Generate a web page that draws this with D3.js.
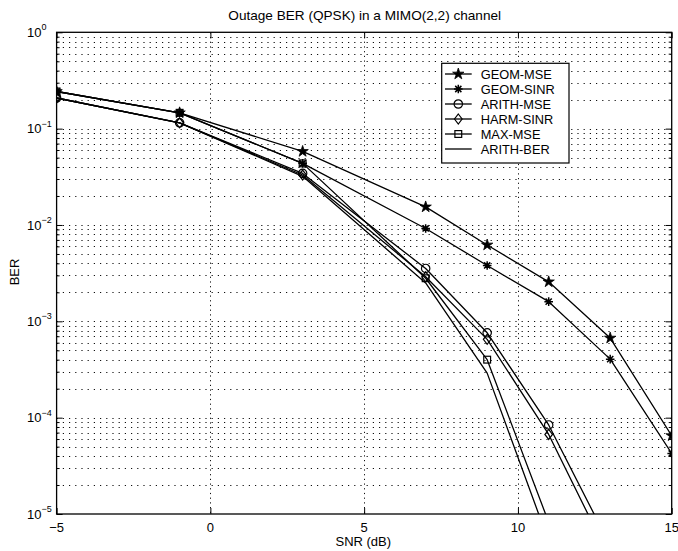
<!DOCTYPE html>
<html>
<head>
<meta charset="utf-8">
<script src="https://cdn.jsdelivr.net/npm/d3@7"></script>
<style>
  html, body { margin: 0; padding: 0; background: #fff; }
  svg { display: block; font-family: "Liberation Sans", Arial, Helvetica, sans-serif; }
</style>
</head>
<body>
<svg id="chart" width="678" height="551"></svg>
<script>
// ---------------- data ----------------
const snr = [-5, -1, 3, 7, 9, 11, 13, 15];
const geomMSE  = [0.243, 0.146, 0.058, 0.0154, 0.0062, 0.00257, 6.7e-4, 6.5e-5];
const geomSINR = [0.243, 0.146, 0.0436, 0.0092, 0.0038, 0.0016, 4.05e-4, 4.25e-5];
const arithMSE = [0.208, 0.115, 0.0343, 0.00354, 7.6e-4, 8.4e-5, 4.7e-6];
const harmSINR = [0.208, 0.115, 0.0330, 0.0029, 6.5e-4, 6.7e-5, 3.4e-6];
const maxMSE   = [0.243, 0.146, 0.0436, 0.0028, 4.0e-4, 8.2e-6];
const arithBER = [0.208, 0.115, 0.0320, 0.0025, 2.9e-4, 5.2e-6];

const seriesNames = ["GEOM-MSE", "GEOM-SINR", "ARITH-MSE", "HARM-SINR", "MAX-MSE", "ARITH-BER"];
const seriesValues = [geomMSE, geomSINR, arithMSE, harmSINR, maxMSE, arithBER];
const seriesMarkers = ["star", "asterisk", "circle", "diamond", "square", "none"];

const xTicks = [-5, 0, 5, 10, 15];
const yExponents = [-5, -4, -3, -2, -1, 0];
const titleText = "Outage BER (QPSK) in a MIMO(2,2) channel";
const xLabel = "SNR (dB)";
const yLabel = "BER";

// ---------------- layout ----------------
const W = 678, H = 551;
const L = 56.6, R = 671.7, T = 32.3, B = 514;

const svg = d3.select("#chart");
svg.append("rect").attr("width", W).attr("height", H).attr("fill", "#fff");

const x = d3.scaleLinear().domain([-5, 15]).range([L, R]);
const y = d3.scaleLog().domain([1e-5, 1]).range([B, T]);

// grid
const gridG = svg.append("g").attr("class", "grid");
const yGridVals = [];
yExponents.forEach(e => {
  if (e === 0) return;
  for (let k = 1; k <= 9; k++) yGridVals.push(k * Math.pow(10, e));
});
gridG.selectAll("line.hg").data(yGridVals.filter(v => v > 1e-5 * 1.0001)).enter()
  .append("line").attr("class", "hg")
  .attr("x1", L).attr("x2", R)
  .attr("y1", d => Math.round(y(d)) + 0.5).attr("y2", d => Math.round(y(d)) + 0.5)
  .attr("stroke", "#111").attr("stroke-width", 1).attr("stroke-dasharray", "1.2,5");
gridG.selectAll("line.vg").data(xTicks.filter(v => v > -5 && v < 15)).enter()
  .append("line").attr("class", "vg")
  .attr("x1", d => Math.round(x(d)) + 0.5).attr("x2", d => Math.round(x(d)) + 0.5)
  .attr("y1", T).attr("y2", B)
  .attr("stroke", "#111").attr("stroke-width", 1).attr("stroke-dasharray", "1.2,3.5");

// axes (ticks inward)
const yMinor = yGridVals.filter(v => Math.abs(Math.log10(v) - Math.round(Math.log10(v))) > 1e-9);
const yMajor = yExponents.map(e => Math.pow(10, e));

function styleAxis(g) {
  g.selectAll("path").remove();
  g.selectAll("line").attr("stroke", "#000").attr("stroke-width", 1);
  g.selectAll("text").remove();
}
svg.append("g").attr("transform", `translate(0,${B})`)
  .call(d3.axisBottom(x).tickValues(xTicks).tickSize(-6)).call(styleAxis);
svg.append("g").attr("transform", `translate(0,${T})`)
  .call(d3.axisTop(x).tickValues(xTicks).tickSize(-6)).call(styleAxis);
svg.append("g").attr("transform", `translate(${L},0)`)
  .call(d3.axisLeft(y).tickValues(yMajor).tickSize(-6)).call(styleAxis);
svg.append("g").attr("transform", `translate(${R},0)`)
  .call(d3.axisRight(y).tickValues(yMajor).tickSize(-6)).call(styleAxis);
svg.append("g").attr("transform", `translate(${L},0)`)
  .call(d3.axisLeft(y).tickValues(yMinor).tickSize(-3)).call(styleAxis);
svg.append("g").attr("transform", `translate(${R},0)`)
  .call(d3.axisRight(y).tickValues(yMinor).tickSize(-3)).call(styleAxis);

// frame
svg.append("rect").attr("x", L).attr("y", T).attr("width", R - L).attr("height", B - T)
  .attr("fill", "none").attr("stroke", "#000").attr("stroke-width", 1.3);

// tick labels
svg.append("g").selectAll("text").data(xTicks).enter().append("text")
  .attr("x", d => x(d)).attr("y", B + 17.5)
  .attr("text-anchor", "middle").attr("font-size", 13).attr("fill", "#000")
  .text(d => d < 0 ? "\u2212" + Math.abs(d) : String(d));

const yl = svg.append("g").selectAll("text").data(yExponents).enter().append("text")
  .attr("x", 27).attr("y", d => y(Math.pow(10, d)) + 4.6)
  .attr("font-size", 13).attr("fill", "#000");
yl.append("tspan").text("10");
yl.append("tspan").attr("font-size", 9).attr("dy", -6.5)
  .text(d => d < 0 ? "\u2212" + Math.abs(d) : String(d));

// titles
svg.append("text").attr("x", 364.7).attr("y", 19.5).attr("text-anchor", "middle")
  .attr("font-size", 13.6).attr("fill", "#000").text(titleText);
svg.append("text").attr("x", 363.3).attr("y", 546).attr("text-anchor", "middle")
  .attr("font-size", 13).attr("fill", "#000").text(xLabel);
svg.append("text").attr("transform", `translate(19,${272}) rotate(-90)`)
  .attr("text-anchor", "middle").attr("font-size", 13).attr("fill", "#000").text(yLabel);

// markers
const starPath = d3.symbol().type(d3.symbolStar).size(40)();
function drawMarker(g, type, cx, cy) {
  const m = g.append("g").attr("transform", `translate(${cx},${cy})`);
  if (type === "star") {
    m.append("path").attr("d", starPath).attr("fill", "#000").attr("stroke", "#000").attr("stroke-width", 0.8);
  } else if (type === "asterisk") {
    const r = 4.3, s = r * 0.72;
    m.append("path").attr("d", `M${-r},0L${r},0M0,${-r}L0,${r}M${-s},${-s}L${s},${s}M${-s},${s}L${s},${-s}`)
      .attr("stroke", "#000").attr("stroke-width", 1.5).attr("fill", "none");
  } else if (type === "circle") {
    m.append("circle").attr("r", 4.2).attr("fill", "none").attr("stroke", "#000").attr("stroke-width", 1.2);
  } else if (type === "diamond") {
    m.append("path").attr("d", "M0,-5L3.8,0L0,5L-3.8,0Z").attr("fill", "none").attr("stroke", "#000").attr("stroke-width", 1.2);
  } else if (type === "square") {
    m.append("rect").attr("x", -3.4).attr("y", -3.4).attr("width", 6.8).attr("height", 6.8)
      .attr("fill", "none").attr("stroke", "#000").attr("stroke-width", 1.2);
  }
}

// series
svg.append("clipPath").attr("id", "plotclip").append("rect")
  .attr("x", L).attr("y", T).attr("width", R - L).attr("height", B - T);
const plotG = svg.append("g").attr("clip-path", "url(#plotclip)");
const line = d3.line().x(d => x(d[0])).y(d => y(d[1]));

seriesValues.forEach((vals, i) => {
  const pts = vals.map((v, j) => [snr[j], v]);
  plotG.append("path").datum(pts).attr("d", line)
    .attr("fill", "none").attr("stroke", "#000").attr("stroke-width", 1.3)
    .attr("stroke-linejoin", "round");
  pts.forEach(p => {
    if (p[1] >= 1e-5 && p[1] <= 1) drawMarker(plotG, seriesMarkers[i], x(p[0]), y(p[1]));
  });
});

// legend
const lg = svg.append("g");
const lgX = 441.7, lgY = 63.3, lgW = 127.3, lgH = 99.7;
lg.append("rect").attr("x", lgX).attr("y", lgY).attr("width", lgW).attr("height", lgH)
  .attr("fill", "#fff").attr("stroke", "#000").attr("stroke-width", 1.2);
seriesNames.forEach((name, i) => {
  const cy = 74 + i * 15;
  lg.append("line").attr("x1", 445).attr("x2", 471.7).attr("y1", cy).attr("y2", cy)
    .attr("stroke", "#000").attr("stroke-width", 1.3);
  drawMarker(lg, seriesMarkers[i], 458.3, cy);
  lg.append("text").attr("x", 480.7).attr("y", cy + 4.6).attr("font-size", 12.8)
    .attr("fill", "#000").text(name);
});
</script>
</body>
</html>
